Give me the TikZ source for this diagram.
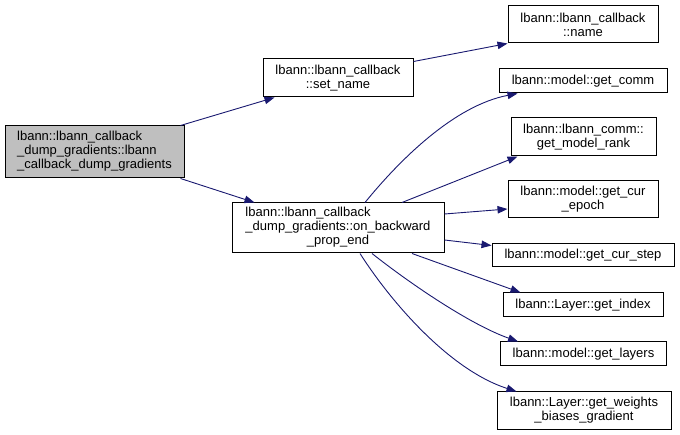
\documentclass[tikz,border=0pt]{standalone}
\usepackage{fontspec}
\setmainfont{Liberation Sans}
\usetikzlibrary{arrows.meta}
\definecolor{edgeblue}{HTML}{191970}
\definecolor{rootgray}{HTML}{BFBFBF}
\tikzset{
  box/.style={draw=black, line width=1pt, fill=white, inner sep=0pt, align=center,
    font=\fontsize{13}{14}\selectfont},
  edge/.style={draw=edgeblue, line width=0.9pt, -{Triangle[length=10pt,width=7.5pt]}},
}
\begin{document}
\begin{tikzpicture}[x=1pt,y=-1pt]
\useasboundingbox (0,0) rectangle (680,435);
% nodes
\node[box, fill=rootgray, minimum width=179pt, minimum height=52pt] (A) at (94.5,152)
  {\begin{tabular}{@{}l@{}}lbann::lbann\_callback\\\_dump\_gradients::lbann\\\_callback\_dump\_gradients\end{tabular}};
\node[box, minimum width=150pt, minimum height=38pt] (B) at (338,78)
  {lbann::lbann\_callback\\::set\_name};
\node[box, minimum width=212pt, minimum height=50pt] (C) at (338,228)
  {\begin{tabular}{@{}l@{}}lbann::lbann\_callback\\\_dump\_gradients::on\_backward\\\multicolumn{1}{@{}c@{}}{\_prop\_end}\end{tabular}};
\node[box, minimum width=150pt, minimum height=37pt] (name) at (583,24.5)
  {lbann::lbann\_callback\\::name};
\node[box, minimum width=168pt, minimum height=24pt] (comm) at (583,81)
  {lbann::model::get\_comm};
\node[box, minimum width=145pt, minimum height=38pt] (rank) at (583.5,137)
  {lbann::lbann\_comm::\\get\_model\_rank};
\node[box, minimum width=150pt, minimum height=37pt] (epoch) at (583,199.5)
  {lbann::model::get\_cur\\\_epoch};
\node[box, minimum width=182pt, minimum height=23pt] (step) at (583,255.5)
  {lbann::model::get\_cur\_step};
\node[box, minimum width=160pt, minimum height=24pt] (index) at (583,305)
  {lbann::Layer::get\_index};
\node[box, minimum width=166pt, minimum height=24pt] (layers) at (583.5,354)
  {lbann::model::get\_layers};
\node[box, minimum width=174pt, minimum height=37pt] (weights) at (584,410.5)
  {lbann::Layer::get\_weights\\\_biases\_gradient};
% edges
\draw[edge] ([xshift=-4pt]A.north east) -- ([xshift=12pt]B.south west);
\draw[edge] ([xshift=-4pt]A.south east) -- ([xshift=23pt]C.north west);
\draw[edge] ([yshift=-3pt]B.north east) -- (name.south west);
\draw[edge] ([xshift=27pt]C.north) .. controls +(35,-43) and +(-63,12) .. ([xshift=19pt]comm.south west);
\draw[edge] ([xshift=64pt]C.north) -- ([xshift=7pt]rank.south west);
\draw[edge] ([yshift=14pt]C.east) -- ([yshift=-9.5pt]epoch.west);
\draw[edge] ([yshift=-12pt]C.east) -- ([yshift=10pt]step.west);
\draw[edge] ([xshift=74pt]C.south) -- ([xshift=18pt]index.north west);
\draw[edge] ([xshift=34pt]C.south) .. controls +(38,30) and +(-48,-17) .. ([xshift=18pt]layers.north west);
\draw[edge] ([xshift=22pt]C.south) .. controls +(30,47) and +(-68,-22) .. ([xshift=20pt]weights.north west);
\end{tikzpicture}
\end{document}
